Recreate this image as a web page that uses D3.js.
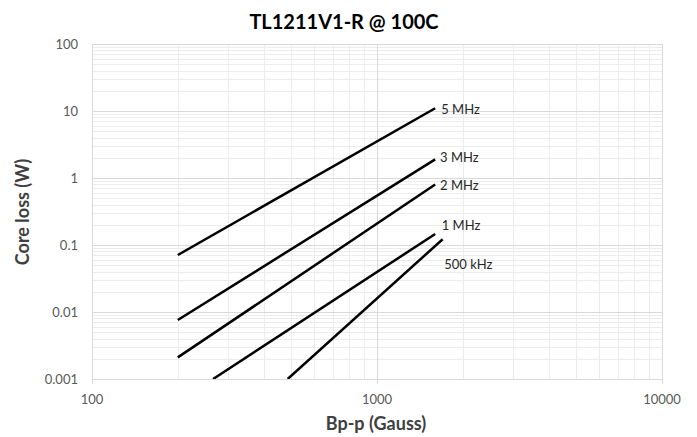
<!DOCTYPE html>
<html>
<head>
<meta charset="utf-8">
<script src="https://cdn.jsdelivr.net/npm/d3@7.8.5/dist/d3.min.js"></script>
<style>
  body { margin: 0; background: #fff; }
  svg { display: block; font-family: Lato, "Open Sans", sans-serif; }
  .grid-minor { stroke: #ececec; stroke-width: 1px; shape-rendering: crispEdges; }
  .grid-major { stroke: #d9d9d9; stroke-width: 1px; shape-rendering: crispEdges; }
  .tick-label { fill: #595959; font-size: 13px; }
  .axis-title { fill: #404040; font-size: 18px; font-weight: bold; }
  .series-label { fill: #262626; font-size: 13px; }
</style>
</head>
<body>
<svg id="chart" width="697" height="437"></svg>
<script>
// series (Bp-p in Gauss, core loss in W)
const seriesNames = ['5 MHz', '3 MHz', '2 MHz', '1 MHz', '500 kHz'];
const fluxStart = [200, 200, 200, 266, 486];
const lossStart = [0.071, 0.0076, 0.0021, 0.001, 0.001];
const fluxEnd = [1600, 1600, 1600, 1600, 1700];
const lossEnd = [11, 1.9, 0.8, 0.146, 0.122];

// where each label sits (data units)
const labelFlux = [1680, 1664, 1664, 1687, 1722];
const labelLoss = [10.7, 2.01, 0.778, 0.194, 0.0515];

const xTicks = [100, 1000, 10000];
const yTicks = [0.001, 0.01, 0.1, 1, 10, 100];

const margin = { left: 92, right: 35, top: 44, bottom: 58 };
const W = 697, H = 437;
const svg = d3.select('#chart');

const x = d3.scaleLog().domain([100, 10000]).range([margin.left, 662]);
const y = d3.scaleLog().domain([0.001, 100]).range([379, margin.top]);

// minor grid (2..9 in each decade)
const minorX = [], minorY = [];
for (let d = 100; d < 10000; d *= 10)
    for (let k = 2; k <= 9; k++) minorX.push(d * k);
for (let d = 0.001; d < 99; d *= 10)
    for (let k = 2; k <= 9; k++) minorY.push(+(d * k).toPrecision(3));

const grid = svg.append('g');
grid.selectAll('.gx').data(minorX).join('line')
    .attr('class', 'grid-minor')
    .attr('x1', d => Math.round(x(d)) + 0.5).attr('x2', d => Math.round(x(d)) + 0.5)
    .attr('y1', y(100)).attr('y2', y(0.001));
grid.selectAll('.gy').data(minorY).join('line')
    .attr('class', 'grid-minor')
    .attr('x1', x(100)).attr('x2', x(10000))
    .attr('y1', d => Math.round(y(d)) + 0.5).attr('y2', d => Math.round(y(d)) + 0.5);
grid.selectAll('.Gy').data(yTicks).join('line')
    .attr('class', 'grid-major')
    .attr('x1', x(100)).attr('x2', x(10000))
    .attr('y1', d => Math.round(y(d)) + 0.5).attr('y2', d => Math.round(y(d)) + 0.5);
grid.selectAll('.Gx').data(xTicks).join('line')
    .attr('class', 'grid-major')
    .attr('x1', d => Math.round(x(d)) + 0.5).attr('x2', d => Math.round(x(d)) + 0.5)
    .attr('y1', y(100)).attr('y2', y(0.001) + 5);

// tick labels
svg.append('g').selectAll('text').data(xTicks).join('text')
    .attr('class', 'tick-label')
    .attr('x', d => x(d)).attr('y', 404)
    .attr('text-anchor', 'middle')
    .text(d => d);
svg.append('g').selectAll('text').data(yTicks).join('text')
    .attr('class', 'tick-label')
    .attr('x', 78).attr('y', d => y(d) + 4.5)
    .attr('text-anchor', 'end')
    .text(d => d);

// series lines
const clipId = 'plot-clip';
svg.append('clipPath').attr('id', clipId).append('rect')
    .attr('x', x(100)).attr('y', y(100))
    .attr('width', x(10000) - x(100)).attr('height', y(0.001) - y(100));

const line = d3.line().x(d => x(d[0])).y(d => y(d[1]));
svg.append('g').attr('clip-path', `url(#${clipId})`)
    .selectAll('path').data(seriesNames).join('path')
    .attr('d', (d, i) => line([[fluxStart[i], lossStart[i]], [fluxEnd[i], lossEnd[i]]]))
    .attr('fill', 'none')
    .attr('stroke', '#000')
    .attr('stroke-width', 2.5);

svg.append('g').selectAll('text').data(seriesNames).join('text')
    .attr('class', 'series-label')
    .attr('x', (d, i) => x(labelFlux[i]))
    .attr('y', (d, i) => y(labelLoss[i]) + 4.5)
    .text(d => d);

// titles
svg.append('text')
    .attr('x', 344).attr('y', 29)
    .attr('text-anchor', 'middle')
    .attr('fill', '#000')
    .style('font-size', '20px').style('font-weight', 'bold')
    .text('TL1211V1-R @ 100C');

svg.append('text')
    .attr('class', 'axis-title')
    .attr('x', 376).attr('y', 430)
    .attr('text-anchor', 'middle')
    .text('Bp-p (Gauss)');

svg.append('text')
    .attr('class', 'axis-title')
    .attr('transform', 'translate(29,212) rotate(-90)')
    .attr('text-anchor', 'middle')
    .text('Core loss (W)');
</script>
</body>
</html>
